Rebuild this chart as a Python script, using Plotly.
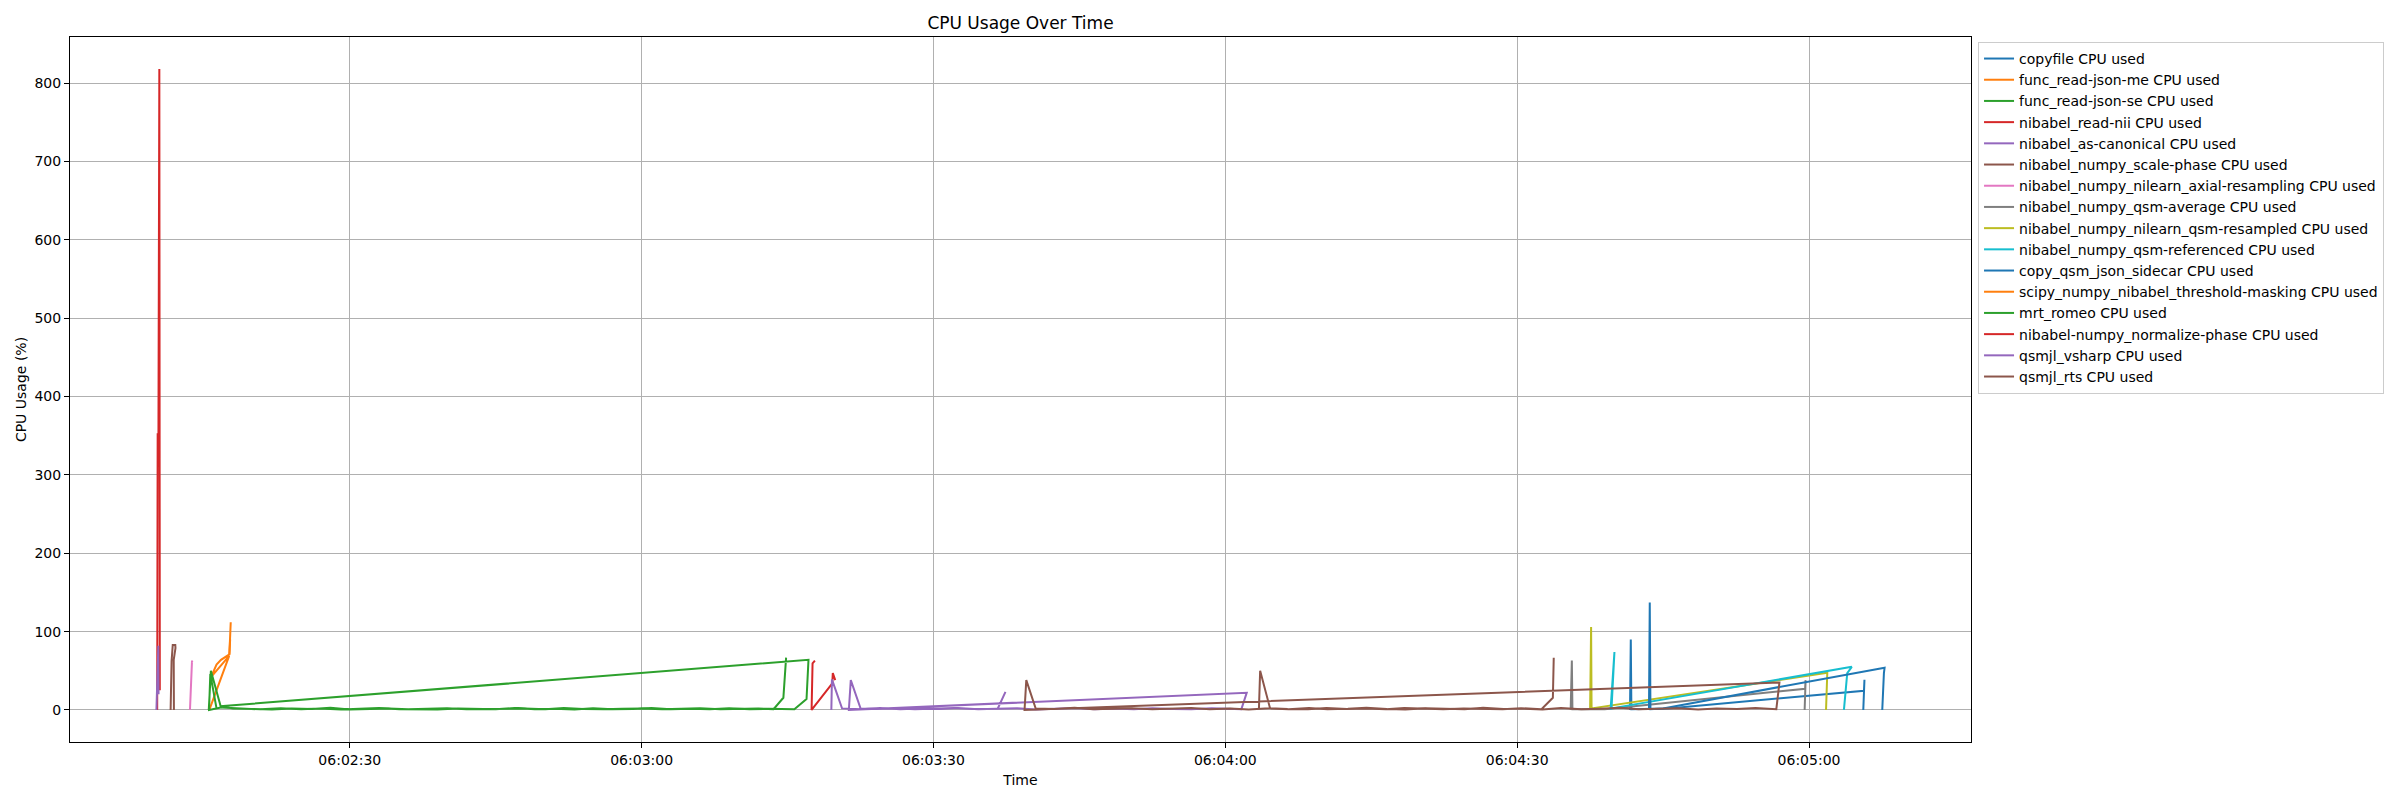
import pandas as pd
import plotly.graph_objects as go

# ---- data: seconds after 06:02:00, CPU usage (%) ----
copyfile_t = [161.60, 161.68, 161.74, 165.5, 185.65, 185.70, 185.58]
copyfile_v = [0, 90, 1, 2, 24.5, 38.5, 0]

func_read_json_me_t = [15.56, 17.60, 15.73, 16.30, 16.76, 17.62, 17.76]
func_read_json_me_v = [0, 69, 42, 58, 64, 71, 112]

func_read_json_se_t = [15.50, 15.72, 16.76, 15.53, 15.66, 16.30]
func_read_json_se_v = [0, 50, 3, 0, 46, 2]

nibabel_read_nii_t = [10.20, 10.25, 10.33, 10.42, 10.47]
nibabel_read_nii_v = [0, 352, 352, 818, 25]

nibabel_as_canonical_t = [10.12, 10.32, 10.34]
nibabel_as_canonical_v = [0, 82, 20]

scale_phase_t = [11.58, 11.68, 11.80, 12.06, 12.08, 11.90, 11.92]
scale_phase_v = [0, 62, 83, 83, 79, 64, 0]

axial_resampling_t = [13.57, 13.78, 13.80]
axial_resampling_v = [0, 63, 61]

qsm_average_t = [155.50, 155.62, 155.68, 159.0, 179.60, 179.65, 179.55]
qsm_average_v = [0, 63, 1, 1, 27, 38, 0]

qsm_resampled_t = [157.50, 157.60, 157.65, 181.88, 181.75]
qsm_resampled_v = [0, 106, 2, 47.5, 0]

qsm_referenced_t = [159.60, 160.00, 159.70, 184.40, 183.93, 183.59]
qsm_referenced_v = [0, 74, 2, 55, 47, 0]

copy_sidecar_t = [163.55, 163.63, 163.70, 165.0, 187.77, 187.70, 187.53]
copy_sidecar_v = [0, 137, 1, 2, 54, 47, 0]

threshold_masking_t = [17.62, 17.70]
threshold_masking_v = [71, 90]

mrt_romeo_t = [16.8, 18.9, 20.8, 22.9, 25.0, 26.9, 29.1, 31.0, 33.0, 35.1, 37.0, 39.0,
               41.1, 43.0, 45.0, 47.1, 49.0, 51.0, 53.1, 55.0, 57.0, 59.1, 61.0, 63.0,
               65.1, 67.0, 69.0, 71.1, 73.0, 75.7, 76.95, 77.15,
               16.66, 18.0, 20.1, 22.0, 24.0, 26.1, 28.0, 30.0, 32.1, 34.0, 36.0, 38.1,
               40.0, 42.0, 44.1, 46.0, 48.0, 50.1, 52.0, 54.0, 56.1, 58.0, 60.0, 62.1,
               64.0, 66.0, 68.1, 70.0, 72.0, 73.56, 74.57, 74.85]
mrt_romeo_v = [3.0, 1.5, 0.8, 2.2, 1.0, 1.8, 0.6, 1.4, 2.5, 0.9, 1.2, 0.7,
               2.0, 1.1, 0.8, 2.6, 1.0, 1.5, 0.7, 2.1, 0.9, 1.3, 2.4, 0.8,
               1.6, 0.9, 2.2, 1.0, 1.4, 1.0, 14, 64,
               4.7, 2.0, 1.0, 0.6, 1.9, 1.2, 2.8, 0.7, 1.1, 2.0, 0.8, 1.5,
               2.3, 0.9, 1.2, 0.7, 1.8, 1.0, 2.5, 1.1, 0.8, 1.6, 2.0, 0.9,
               1.3, 2.2, 0.8, 1.4, 1.9, 1.0, 15.6, 66.7]

normalize_phase_t = [77.81, 77.57, 77.47, 79.60, 79.65, 79.90]
normalize_phase_v = [63, 59.5, 0, 34, 47, 38]

qsmjl_vsharp_t = [79.5, 79.56, 80.6, 82.6, 84.5, 86.6, 88.5, 90.6, 92.5, 94.6, 96.5, 98.6,
                  100.5, 102.6, 104.5, 106.6, 108.5, 110.6, 112.5, 114.6, 116.5, 118.6,
                  120.5, 121.65, 122.2,
                  81.3, 81.5, 82.5, 84.1, 86.0, 88.1, 90.0, 92.1, 94.0, 96.6, 97.4]
qsmjl_vsharp_v = [0, 39, 2.0, 1.0, 2.4, 0.8, 1.7, 1.1, 2.6, 0.9, 1.5, 2.2,
                  0.7, 1.3, 2.5, 1.0, 1.8, 0.8, 2.1, 1.2, 0.9, 2.3,
                  1.4, 1.0, 22,
                  0, 38, 2.0, 1.3, 2.2, 0.9, 1.6, 2.5, 1.1, 1.5, 23]

qsmjl_rts_t = [123.45, 123.58, 124.6, 126.5, 128.6, 130.5, 132.6, 134.5, 136.6, 138.5,
               140.6, 142.5, 144.6, 146.5, 148.6, 150.5, 152.6, 154.5, 156.6, 158.5,
               160.6, 162.5, 164.6, 166.5, 168.6, 170.5, 172.6, 174.5, 176.64, 176.96,
               99.36, 99.54, 100.5, 102.4, 104.5, 106.4, 108.5, 110.4, 112.5, 114.4,
               116.5, 118.4, 120.5, 122.4, 124.5, 126.4, 128.5, 130.4, 132.5, 134.4,
               136.5, 138.4, 140.5, 142.4, 144.5, 146.4, 148.5, 150.4, 152.5, 153.67, 153.76]
qsmjl_rts_v = [0, 50, 2.0, 1.0, 2.6, 0.8, 1.5, 2.9, 1.1, 0.7,
               2.2, 1.4, 0.9, 2.7, 1.2, 1.8, 0.6, 2.4, 1.0, 1.6,
               2.8, 0.9, 1.3, 2.1, 0.7, 1.9, 1.1, 2.5, 1.0, 35,
               0, 38, 2.0, 1.2, 2.7, 0.8, 1.6, 2.3, 0.9, 1.4,
               2.6, 1.0, 1.8, 0.7, 2.2, 1.3, 0.9, 2.5, 1.1, 1.7,
               0.8, 2.4, 1.2, 0.9, 2.0, 1.5, 0.8, 2.3, 1.0, 15.6, 66.7]

series_names = [
    "copyfile CPU used",
    "func_read-json-me CPU used",
    "func_read-json-se CPU used",
    "nibabel_read-nii CPU used",
    "nibabel_as-canonical CPU used",
    "nibabel_numpy_scale-phase CPU used",
    "nibabel_numpy_nilearn_axial-resampling CPU used",
    "nibabel_numpy_qsm-average CPU used",
    "nibabel_numpy_nilearn_qsm-resampled CPU used",
    "nibabel_numpy_qsm-referenced CPU used",
    "copy_qsm_json_sidecar CPU used",
    "scipy_numpy_nibabel_threshold-masking CPU used",
    "mrt_romeo CPU used",
    "nibabel-numpy_normalize-phase CPU used",
    "qsmjl_vsharp CPU used",
    "qsmjl_rts CPU used",
]
series_t = [copyfile_t, func_read_json_me_t, func_read_json_se_t, nibabel_read_nii_t,
            nibabel_as_canonical_t, scale_phase_t, axial_resampling_t, qsm_average_t,
            qsm_resampled_t, qsm_referenced_t, copy_sidecar_t, threshold_masking_t,
            mrt_romeo_t, normalize_phase_t, qsmjl_vsharp_t, qsmjl_rts_t]
series_v = [copyfile_v, func_read_json_me_v, func_read_json_se_v, nibabel_read_nii_v,
            nibabel_as_canonical_v, scale_phase_v, axial_resampling_v, qsm_average_v,
            qsm_resampled_v, qsm_referenced_v, copy_sidecar_v, threshold_masking_v,
            mrt_romeo_v, normalize_phase_v, qsmjl_vsharp_v, qsmjl_rts_v]

tab10 = ["#1f77b4", "#ff7f0e", "#2ca02c", "#d62728", "#9467bd",
         "#8c564b", "#e377c2", "#7f7f7f", "#bcbd22", "#17becf"]

BASE = pd.Timestamp("2024-01-01 06:02:00")


def to_time(secs):
    return [BASE + pd.Timedelta(seconds=s) for s in secs]


fig = go.Figure()
for i, (name, t, v) in enumerate(zip(series_names, series_t, series_v)):
    fig.add_trace(go.Scatter(
        x=to_time(t), y=v, mode="lines", name=name,
        line=dict(color=tab10[i % 10], width=2),
    ))

all_t = [s for t in series_t for s in t]
all_v = [s for v in series_v for s in v]
tmin, tmax = min(all_t), max(all_t)
vmin, vmax = min(all_v), max(all_v)
tpad = 0.05 * (tmax - tmin)
vpad = 0.05 * (vmax - vmin)

axis_common = dict(
    showgrid=True, gridcolor="#b0b0b0", gridwidth=1,
    showline=True, linecolor="black", linewidth=1, mirror=True,
    ticks="outside", ticklen=5, tickcolor="black", tickwidth=1,
    zeroline=False, tickfont=dict(size=14, color="black"),
)

fig.update_layout(
    width=2400, height=800,
    margin=dict(l=70, r=429, t=37, b=58),
    paper_bgcolor="white", plot_bgcolor="white",
    font=dict(family="DejaVu Sans", size=14, color="black"),
    title=dict(text="CPU Usage Over Time", x=0.5, xref="paper", xanchor="center",
               y=1 - 23 / 800, yref="container", yanchor="middle",
               font=dict(size=17, color="black")),
    showlegend=True,
    legend=dict(x=1.0037, xanchor="left", y=0.993, yanchor="top",
                bordercolor="#cccccc", borderwidth=1,
                bgcolor="rgba(255,255,255,0.8)", font=dict(size=14),
                itemwidth=30, traceorder="normal"),
    xaxis=dict(type="date",
               range=[BASE + pd.Timedelta(seconds=tmin - tpad),
                      BASE + pd.Timedelta(seconds=tmax + tpad)],
               tickformat="%H:%M:%S", dtick=30000,
               tick0=BASE + pd.Timedelta(seconds=30),
               title=dict(text="Time", standoff=8, font=dict(size=14)),
               **axis_common),
    yaxis=dict(range=[vmin - vpad, vmax + vpad], dtick=100, tick0=0,
               title=dict(text="CPU Usage (%)", standoff=4, font=dict(size=14)),
               **axis_common),
)

fig.write_html("out.html", config={"displayModeBar": False},
               post_script="document.body.style.margin='0';document.body.style.overflow='hidden';")
